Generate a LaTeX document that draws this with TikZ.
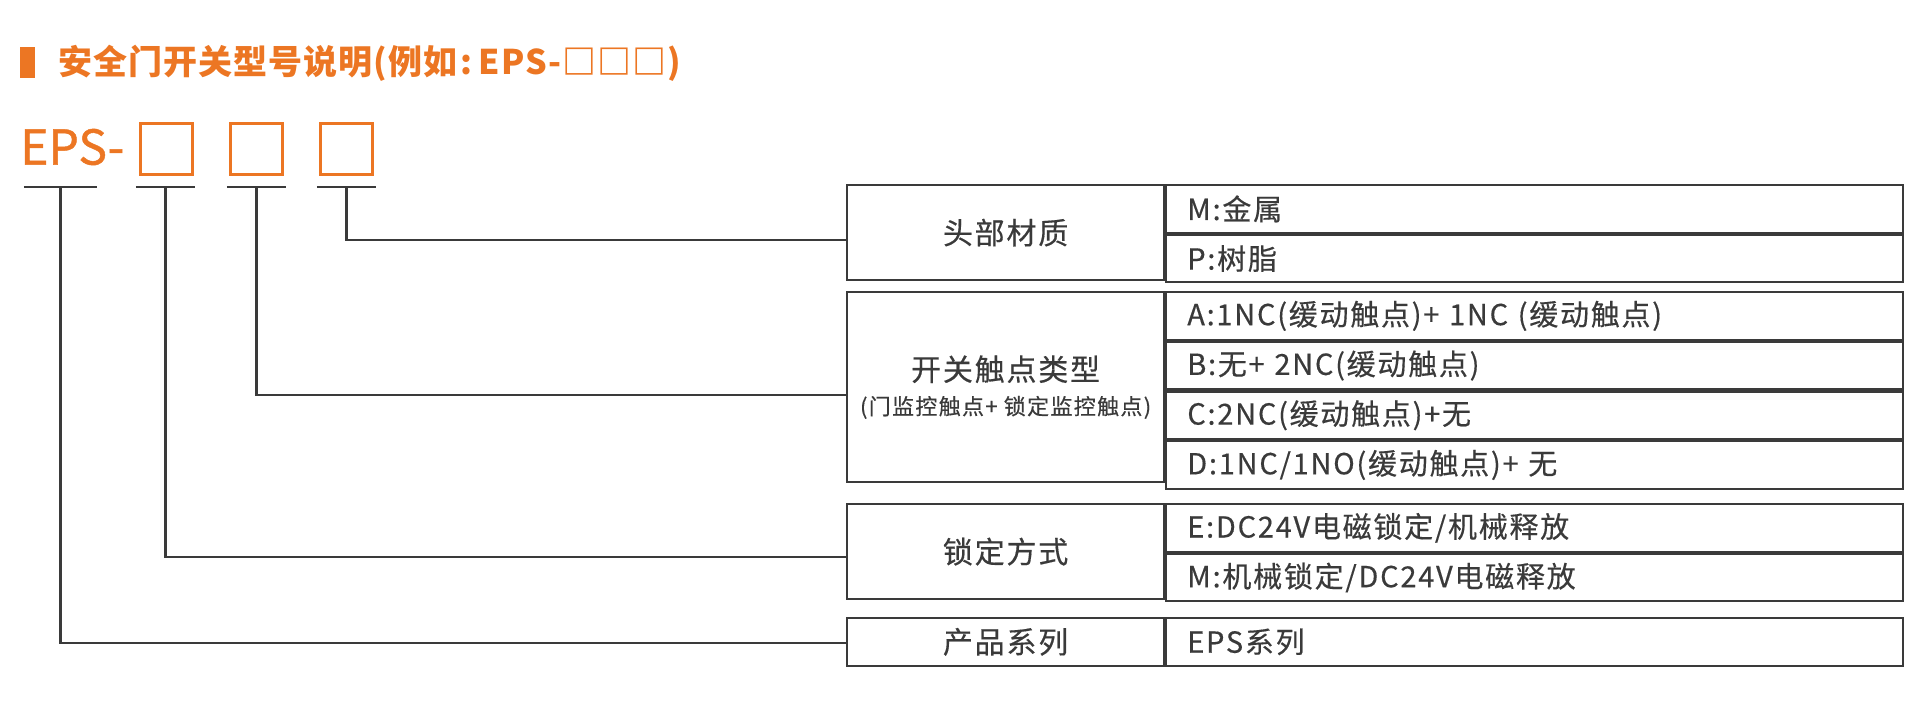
\documentclass[tikz,border=0pt]{standalone}
\usepackage{fontspec}
\setmainfont{Noto Sans CJK SC}
\newfontfamily\spaced{Noto Sans CJK SC}[LetterSpace=6, FakeBold=0.4]
\newfontfamily\titlefont{Noto Sans CJK SC}[LetterSpace=3]
\newfontfamily\codefont{Noto Sans CJK SC}[FakeBold=1]
\usetikzlibrary{positioning}
\definecolor{epsorange}{RGB}{236,118,35}
\definecolor{linegray}{RGB}{58,58,58}
\begin{document}
\begin{tikzpicture}[x=1pt, y=-1pt,
	cat/.style = {draw=linegray, line width=2.2pt, minimum width=317pt, inner sep=0pt, align=center, text=linegray, font=\spaced\fontsize{30}{36}\selectfont},
	opt/.style = {draw=linegray, line width=2.2pt, minimum height=47.5pt, text width=695pt, inner xsep=21pt, inner ysep=0pt, align=left, text=linegray, font=\spaced\fontsize{29}{35}\selectfont},
	slot/.style = {draw=epsorange, line width=3pt, minimum width=52pt, minimum height=51pt, inner sep=0pt},
	uline/.style = {minimum height=0pt, inner sep=0pt},
	edge/.style = {draw=linegray, line width=2.2pt},
	elbow/.style = {to path={|- (\tikztotarget)}}]

	\useasboundingbox (0,0) rectangle (1920,710);

	% title
	\node[fill=epsorange, minimum width=15pt, minimum height=31pt, inner sep=0pt] (bar) at (27.5,62.5) {};
	\node[anchor=west, inner sep=0pt, text=epsorange, font=\titlefont\bfseries\fontsize{34}{40}\selectfont] (title) at (58,63) {安全门开关型号说明(例如\hspace{4pt}:\hspace{6pt}EPS-□□□)};

	% model code
	\node[anchor=west, inner sep=0pt, text=epsorange, font=\codefont\fontsize{48}{54}\selectfont] (eps) at (20,147) {EPS-};
	\node[slot] (s1) at (166,148.5) {};
	\node[slot] (s2) at (256.5,148.5) {};
	\node[slot] (s3) at (346.5,148.5) {};

	\node[uline, minimum width=73pt] (u0) at (60.5,187) {};
	\node[uline, minimum width=59pt] (u1) at (165.5,187) {};
	\node[uline, minimum width=59pt] (u2) at (256.5,187) {};
	\node[uline, minimum width=59pt] (u3) at (346.5,187) {};

	% table
	\node[cat, minimum height=95pt, anchor=north west] (c1) at (846,184) {头部材质};
	\node[opt, anchor=north west] (o11) at (c1.north east) {M:金属};
	\node[opt, below=0pt of o11] (o12) {P:树脂};

	\node[cat, minimum height=190pt, anchor=north west] (c2) at (846,291) {开关触点类型\\[-2pt]{\fontsize{22}{26}\selectfont (门监控触点+ 锁定监控触点)}};
	\node[opt, anchor=north west] (o21) at (c2.north east) {A:1NC(缓动触点)+ 1NC (缓动触点)};
	\node[opt, below=0pt of o21] (o22) {B:无+ 2NC(缓动触点)};
	\node[opt, below=0pt of o22] (o23) {C:2NC(缓动触点)+无};
	\node[opt, below=0pt of o23] (o24) {D:1NC/1NO(缓动触点)+ 无};

	\node[cat, minimum height=95pt, anchor=north west] (c3) at (846,503) {锁定方式};
	\node[opt, anchor=north west] (o31) at (c3.north east) {E:DC24V电磁锁定/机械释放};
	\node[opt, below=0pt of o31] (o32) {M:机械锁定/DC24V电磁释放};

	\node[cat, minimum height=47.5pt, anchor=north west] (c4) at (846,617) {产品系列};
	\node[opt, anchor=north west] (o41) at (c4.north east) {EPS系列};

	\coordinate (t1) at (846,240);
	\coordinate (t2) at (846,395);
	\coordinate (t3) at (846,557);
	\coordinate (t4) at (846,643);

	\path[edge]
	(u0.west) edge (u0.east)
	(u1.west) edge (u1.east)
	(u2.west) edge (u2.east)
	(u3.west) edge (u3.east)

	(u3.center) edge[elbow] (t1)
	(u2.center) edge[elbow] (t2)
	(u1.center) edge[elbow] (t3)
	(u0.center) edge[elbow] (t4);

\end{tikzpicture}
\end{document}
